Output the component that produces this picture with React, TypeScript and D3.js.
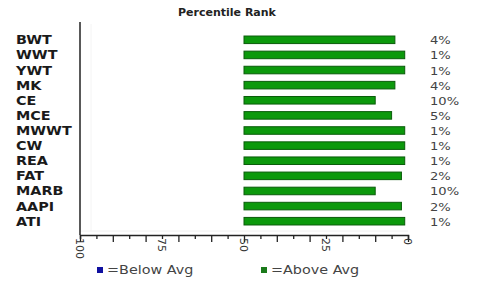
import * as d3 from "d3";
import { useEffect, useRef } from "react";

// traits and percentile rank (percent)
const traits = ["BWT", "WWT", "YWT", "MK", "CE", "MCE", "MWWT", "CW", "REA", "FAT", "MARB", "AAPI", "ATI"];
const percentiles = [4, 1, 1, 4, 10, 5, 1, 1, 1, 2, 10, 2, 1];
const tickValues = [100, 75, 50, 25, 0];
const legendItems = ["=Below Avg", "=Above Avg"];
const legendColors = ["#1010a0", "#1a7a1a"];

function App() {
  const ref = useRef<SVGSVGElement>(null);

  useEffect(() => {
    const svg = d3.select(ref.current);
    svg.selectAll("*").remove();

    const width = 478;
    const height = 289;
    const margin = { top: 33, right: 70, bottom: 54, left: 80 };
    const stretch = "scale(1.25,1)"; // text in the source is drawn wide

    // x goes from 100 on the left to 0 on the right
    const xScale = d3.scaleLinear().domain([100, 0]).range([margin.left, width - margin.right]);
    const yScale = d3
      .scaleBand()
      .domain(traits)
      .range([margin.top, height - margin.bottom - 7])
      .paddingInner(0.5)
      .paddingOuter(0.2);

    svg.attr("width", width).attr("height", height);

    // title
    svg
      .append("text")
      .attr("x", 227)
      .attr("y", 16)
      .attr("text-anchor", "middle")
      .attr("font-family", "DejaVu Sans")
      .attr("font-weight", "bold")
      .attr("font-size", 11)
      .attr("fill", "#222")
      .text("Percentile Rank");

    // very faint plot border
    svg
      .append("line")
      .attr("x1", margin.left + 11)
      .attr("x2", margin.left + 11)
      .attr("y1", 24)
      .attr("y2", height - margin.bottom - 4)
      .attr("stroke", "#f4f4f4");
    svg
      .append("line")
      .attr("x1", margin.left)
      .attr("x2", width - margin.right)
      .attr("y1", height - margin.bottom - 4)
      .attr("y2", height - margin.bottom - 4)
      .attr("stroke", "#f0f0f0");

    // bars start at 50 and go to the percentile
    svg
      .append("g")
      .selectAll("rect")
      .data(percentiles)
      .join("rect")
      .attr("x", xScale(50))
      .attr("y", (d, i) => yScale(traits[i])!)
      .attr("width", (d) => xScale(d) - xScale(50))
      .attr("height", yScale.bandwidth())
      .attr("fill", "#0c990c")
      .attr("stroke", "#0a5c0a")
      .attr("stroke-width", 1);

    // trait labels
    svg
      .append("g")
      .selectAll("text")
      .data(traits)
      .join("text")
      .attr("transform", (d) => `translate(16,${yScale(d)! + yScale.bandwidth() / 2 + 4.5}) ${stretch}`)
      .attr("font-family", "DejaVu Sans")
      .attr("font-weight", "bold")
      .attr("font-size", 11.5)
      .attr("fill", "#1a1a1a")
      .text((d) => d);

    // percent labels
    svg
      .append("g")
      .selectAll("text")
      .data(percentiles)
      .join("text")
      .attr("transform", (d, i) => `translate(430,${yScale(traits[i])! + yScale.bandwidth() / 2 + 4.5}) ${stretch}`)
      .attr("font-family", "DejaVu Sans")
      .attr("font-size", 10.5)
      .attr("fill", "#444")
      .text((d) => d + "%");

    // left axis line
    svg
      .append("line")
      .attr("x1", margin.left)
      .attr("x2", margin.left)
      .attr("y1", 22)
      .attr("y2", height - margin.bottom)
      .attr("stroke", "#222")
      .attr("stroke-width", 1.5);

    // bottom axis, ticks every 5
    const xAxis = svg
      .append("g")
      .attr("transform", `translate(0,${height - margin.bottom})`)
      .call(
        d3
          .axisBottom(xScale)
          .tickValues(d3.range(0, 101, 5))
          .tickSize(4)
          .tickFormat(() => "")
      );
    xAxis.select(".domain").attr("stroke", "#222").attr("stroke-width", 1.5);
    xAxis
      .selectAll(".tick line")
      .attr("stroke", "#222")
      .attr("stroke-width", 1.3)
      .attr("y2", (d: any) => (d % 10 === 0 ? 7 : 4));

    // rotated tick labels
    svg
      .append("g")
      .selectAll("text")
      .data(tickValues)
      .join("text")
      .attr("transform", (d) => `translate(${xScale(d) - 4},${height - margin.bottom + 3}) rotate(90)`)
      .attr("font-family", "DejaVu Sans")
      .attr("font-size", 11)
      .attr("fill", "#333")
      .text((d) => d);

    // legend
    const legend = svg
      .append("g")
      .selectAll("g")
      .data(legendItems)
      .join("g")
      .attr("transform", (d, i) => `translate(${i === 0 ? 97 : 261},274)`);
    legend
      .append("rect")
      .attr("x", 0)
      .attr("y", -7)
      .attr("width", 6)
      .attr("height", 6)
      .attr("fill", (d, i) => legendColors[i]);
    legend
      .append("text")
      .attr("transform", `translate(10,0) ${stretch}`)
      .attr("font-family", "DejaVu Sans")
      .attr("font-size", 11.5)
      .attr("fill", "#444")
      .text((d) => d);
  }, []);

  return (
    <div style={{ position: "absolute", left: 0, top: 0, background: "#fff" }}>
      <svg ref={ref} style={{ display: "block" }} />
    </div>
  );
}

export default App;
